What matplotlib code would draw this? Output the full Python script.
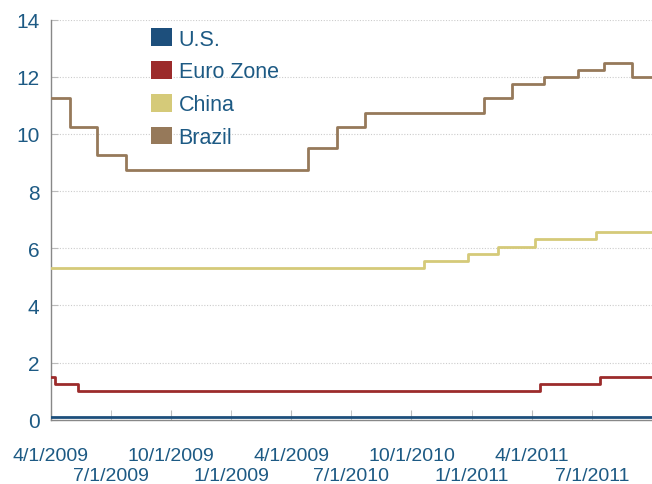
import matplotlib
matplotlib.use("Agg")
import matplotlib.pyplot as plt
from matplotlib.patches import Patch

plt.rcParams['font.family'] = ['Liberation Sans', 'DejaVu Sans']

# x is months since 4/1/2009; each series is (change month, new rate)
tick_labels = ['4/1/2009', '7/1/2009', '10/1/2009', '1/1/2009', '4/1/2009',
               '7/1/2010', '10/1/2010', '1/1/2011', '4/1/2011', '7/1/2011']

us_months = [0, 30]
us_rates = [0.1, 0.1]

euro_months = [0, 0.21, 1.36, 24.4, 27.4, 30]
euro_rates = [1.5, 1.25, 1.0, 1.25, 1.5, 1.5]

china_months = [0, 18.6, 20.8, 22.3, 24.15, 27.2, 30]
china_rates = [5.31, 5.56, 5.81, 6.06, 6.31, 6.56, 6.56]

brazil_months = [0, 0.96, 2.3, 3.75, 12.85, 14.3, 15.7, 21.6, 23.0, 24.6, 26.3, 27.6, 29.0, 30]
brazil_rates = [11.25, 10.25, 9.25, 8.75, 9.5, 10.25, 10.75, 11.25, 11.75, 12.0, 12.25, 12.5, 12.0, 12.0]

series = [
    ('U.S.', us_months, us_rates, '#1d4f7c'),
    ('Euro Zone', euro_months, euro_rates, '#9c2b2b'),
    ('China', china_months, china_rates, '#d5ca79'),
    ('Brazil', brazil_months, brazil_rates, '#96795a'),
]

text_color = '#1d5a84'

fig = plt.figure(figsize=(6.52, 4.85), dpi=100)
ax = fig.add_axes([0.0778, 0.1326, 0.9222, 0.8247])

for name, m, r, c in series:
    ax.step(m, r, where='post', color=c, linewidth=2.0, zorder=3)

ax.set_xlim(0, 30)
ax.set_ylim(0, 14)
ax.set_yticks(range(0, 15, 2))

# staggered date labels: upper row on major ticks, lower row on minor ticks
quarters = list(range(0, 30, 3))
ax.set_xticks(quarters[0::2])
ax.set_xticklabels(tick_labels[0::2])
ax.set_xticks(quarters[1::2], minor=True)
ax.set_xticklabels(tick_labels[1::2], minor=True)

ax.grid(axis='y', color='#cccccc', linestyle=(0, (1, 1.5)), linewidth=0.8, zorder=0)
for s in ['top', 'right']:
    ax.spines[s].set_visible(False)
for s in ['left', 'bottom']:
    ax.spines[s].set_color('#888888')
    ax.spines[s].set_linewidth(1.0)

ax.tick_params(axis='x', which='major', direction='in', length=7, color='#bbbbbb', pad=20,
               labelsize=14, labelcolor=text_color)
ax.tick_params(axis='x', which='minor', direction='in', length=7, color='#bbbbbb', pad=34,
               labelsize=14, labelcolor=text_color)
ax.tick_params(axis='y', direction='in', length=5, color='#bbbbbb', pad=8,
               labelsize=15, labelcolor=text_color)

handles = [Patch(facecolor=c, edgecolor='none') for _, _, _, c in series]
leg = ax.legend(handles, [s[0] for s in series], loc='upper left',
                bbox_to_anchor=(0.134, 1.027), frameon=False, fontsize=15.5,
                handlelength=1.0, handleheight=0.9, handletextpad=0.3,
                labelspacing=0.53)
for t in leg.get_texts():
    t.set_color(text_color)

fig.savefig('out.png', dpi=100)
